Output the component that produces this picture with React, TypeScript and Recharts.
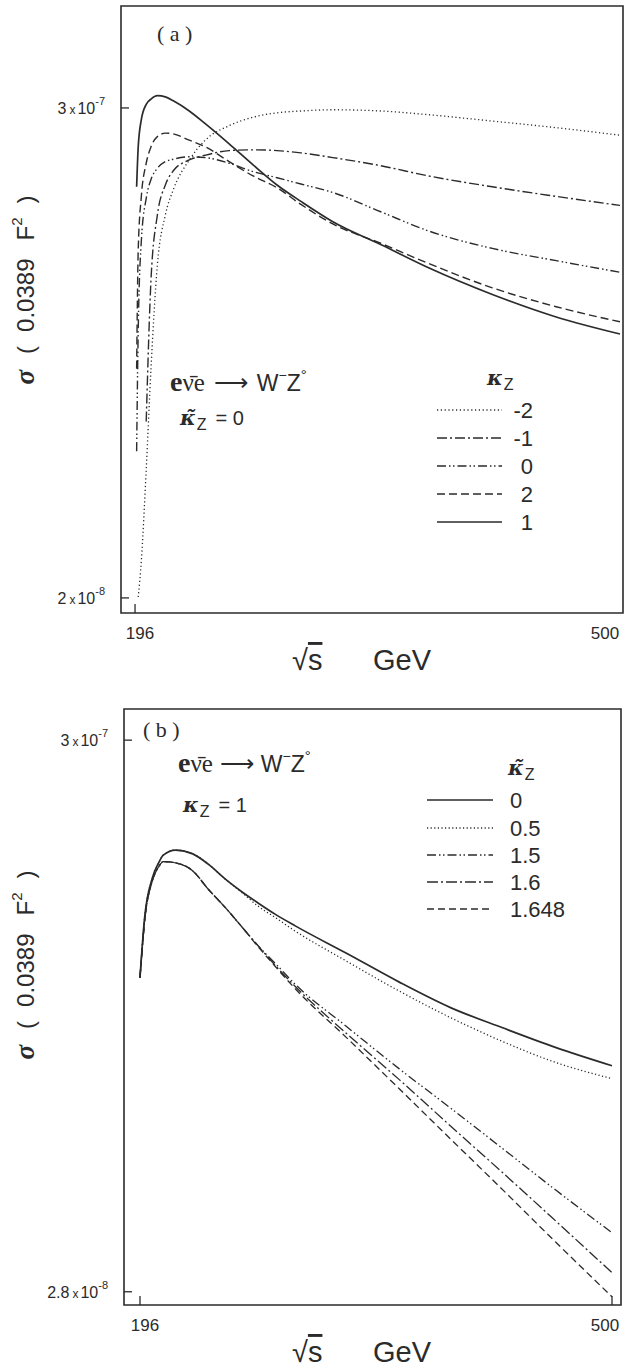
import React from "react";
import { LineChart, Line, XAxis, YAxis, ReferenceArea } from "recharts";

// ---- panel (a): kappa_Z scan at kappa~_Z = 0 ----
const energyA = [197, 198, 200, 203, 206, 210, 215, 220, 230, 240, 255, 270, 285, 300, 320, 350, 380, 420, 460, 500];
const sigmaKm2 = [null, 2.01e-8, 2.47e-8, 4.06e-8, 7.1e-8, 1.26e-7, 1.66e-7, 1.91e-7, 2.25e-7, 2.51e-7, 2.72e-7, 2.85e-7, 2.92e-7, 2.95e-7, 2.97e-7, 2.95e-7, 2.89e-7, 2.79e-7, 2.69e-7, 2.58e-7];
const sigmaKm1 = [null, null, null, 5.3e-8, 1.16e-7, 1.66e-7, 1.96e-7, 2.12e-7, 2.25e-7, 2.31e-7, 2.37e-7, 2.38e-7, 2.37e-7, 2.34e-7, 2.28e-7, 2.18e-7, 2.06e-7, 1.94e-7, 1.84e-7, 1.75e-7];
const sigmaK0 = [4.5e-8, 8.8e-8, 1.45e-7, 1.82e-7, 2.02e-7, 2.15e-7, 2.23e-7, 2.26e-7, 2.29e-7, 2.28e-7, 2.21e-7, 2.11e-7, 2.04e-7, 1.97e-7, 1.88e-7, 1.69e-7, 1.52e-7, 1.38e-7, 1.29e-7, 1.21e-7];
const sigmaK2 = [7.1e-8, 1.37e-7, 1.85e-7, 2.21e-7, 2.42e-7, 2.56e-7, 2.61e-7, 2.6e-7, 2.51e-7, 2.42e-7, 2.23e-7, 2.06e-7, 1.93e-7, 1.76e-7, 1.58e-7, 1.42e-7, 1.27e-7, 1.11e-7, 1.0e-7, 9.2e-8];
const sigmaK1 = [1.94e-7, 2.42e-7, 2.82e-7, 3.06e-7, 3.15e-7, 3.21e-7, 3.19e-7, 3.12e-7, 2.95e-7, 2.75e-7, 2.46e-7, 2.19e-7, 1.96e-7, 1.79e-7, 1.6e-7, 1.41e-7, 1.24e-7, 1.07e-7, 9.45e-8, 8.6e-8];

// ---- panel (b): kappa~_Z scan at kappa_Z = 1 ----
const energyB = [196, 199, 204, 208, 211, 219, 230, 240, 251, 262, 272, 283, 296, 329, 363, 396, 430, 464, 500];
const sigmaT0 = [1.08e-7, 1.4e-7, 1.66e-7, 1.77e-7, 1.83e-7, 1.87e-7, 1.84e-7, 1.76e-7, 1.65e-7, 1.56e-7, 1.49e-7, 1.42e-7, 1.35e-7, 1.2e-7, 1.06e-7, 9.5e-8, 8.7e-8, 8.0e-8, 7.4e-8];
const sigmaT05 = [1.08e-7, 1.4e-7, 1.66e-7, 1.77e-7, 1.83e-7, 1.87e-7, 1.84e-7, 1.76e-7, 1.65e-7, 1.555e-7, 1.47e-7, 1.4e-7, 1.32e-7, 1.16e-7, 1.02e-7, 9.1e-8, 8.2e-8, 7.5e-8, 7.0e-8];
const sigmaT15 = [1.08e-7, 1.38e-7, 1.64e-7, 1.74e-7, 1.78e-7, 1.77e-7, 1.71e-7, 1.58e-7, 1.46e-7, 1.34e-7, 1.24e-7, 1.15e-7, 1.05e-7, 8.76e-8, 7.3e-8, 6.17e-8, 5.17e-8, 4.33e-8, 3.61e-8];
const sigmaT16 = [1.08e-7, 1.38e-7, 1.64e-7, 1.74e-7, 1.78e-7, 1.77e-7, 1.71e-7, 1.58e-7, 1.46e-7, 1.34e-7, 1.24e-7, 1.14e-7, 1.04e-7, 8.5e-8, 6.97e-8, 5.71e-8, 4.66e-8, 3.79e-8, 3.04e-8];
const sigmaT1648 = [1.08e-7, 1.38e-7, 1.64e-7, 1.74e-7, 1.78e-7, 1.77e-7, 1.71e-7, 1.58e-7, 1.46e-7, 1.34e-7, 1.235e-7, 1.135e-7, 1.03e-7, 8.35e-8, 6.7e-8, 5.4e-8, 4.33e-8, 3.46e-8, 2.74e-8];

const xTicks = [196, 500];
const yTicksA = [2e-8, 3e-7];
const yTicksB = [2.8e-8, 3e-7];
const yTickText: Record<string, [string, string, string]> = {
  "2e-8": ["2", "10", "-8"],
  "3e-7": ["3", "10", "-7"],
  "2.8e-8": ["2.8", "10", "-8"],
};

const INK = "#2b2b2b";
const SANS = "'Liberation Sans', Arial, sans-serif";
const SERIF = "'Liberation Serif', 'Times New Roman', serif";
const GREEK = "'DejaVu Serif', serif";

type Series = { key: string; label: string; values: (number | null)[]; dash?: string; width: number };

const seriesA: Series[] = [
  { key: "m2", label: "-2", values: sigmaKm2, dash: "1.2 2.6", width: 1.3 },
  { key: "m1", label: "-1", values: sigmaKm1, dash: "10 3 2 3", width: 1.4 },
  { key: "z0", label: "0", values: sigmaK0, dash: "9 3 1.5 2.5 1.5 3", width: 1.4 },
  { key: "p2", label: "2", values: sigmaK2, dash: "8 4", width: 1.4 },
  { key: "p1", label: "1", values: sigmaK1, width: 1.7 },
];

const seriesB: Series[] = [
  { key: "t0", label: "0", values: sigmaT0, width: 1.7 },
  { key: "t05", label: "0.5", values: sigmaT05, dash: "1.2 2.4", width: 1.3 },
  { key: "t15", label: "1.5", values: sigmaT15, dash: "9 3 1.5 2.5 1.5 3", width: 1.3 },
  { key: "t16", label: "1.6", values: sigmaT16, dash: "11 3 2 3", width: 1.3 },
  { key: "t1648", label: "1.648", values: sigmaT1648, dash: "7 4", width: 1.3 },
];

const buildRows = (energy: number[], series: Series[]) =>
  energy.map((e, i) => {
    const row: Record<string, number | null> = { e };
    series.forEach((s) => (row[s.key] = s.values[i]));
    return row;
  });

const rowsA = buildRows(energyA, seriesA);
const rowsB = buildRows(energyB, seriesB);

const YTick = (props: any) => {
  const { x, y, payload } = props;
  const t = yTickText[String(payload.value)] || [String(payload.value), "", ""];
  return (
    <g>
      <line x1={x} x2={x + 8} y1={y} y2={y} stroke={INK} strokeWidth={1.3} />
      <text x={x - 16} y={y + 6} textAnchor="end" fontFamily={SANS} fontSize={16} fill={INK}>
        {t[0]}
        <tspan fontSize={12} dx={3}>x</tspan>
        <tspan dx={2}>{t[1]}</tspan>
        <tspan fontSize={11} dy={-9}>{t[2]}</tspan>
      </text>
    </g>
  );
};

const makeXTick = (tickAt500: boolean) => (props: any) => {
  const { x, y, payload } = props;
  const is500 = payload.value === 500;
  return (
    <g>
      {(!is500 || tickAt500) && <line x1={x} x2={x} y1={y} y2={y - 9} stroke={INK} strokeWidth={1.3} />}
      <text x={is500 ? 605 : x + 5} y={y + 26} textAnchor="middle" fontFamily={SANS} fontSize={17} fill={INK}>
        {payload.value}
      </text>
    </g>
  );
};

type PanelProps = {
  rows: Record<string, number | null>[];
  series: Series[];
  top: number;
  height: number;
  margin: { top: number; right: number; left: number; bottom: number };
  yWidth: number;
  xHeight: number;
  xDomain: [number, number];
  yDomain: [number, number];
  yTicks: number[];
  tickAt500: boolean;
};

const Panel = (p: PanelProps) => (
  <div style={{ position: "absolute", left: 0, top: p.top }}>
    <LineChart width={629} height={p.height} data={p.rows} margin={p.margin}>
      <XAxis
        type="number"
        dataKey="e"
        domain={p.xDomain}
        ticks={xTicks}
        allowDataOverflow
        axisLine={false}
        tickLine={false}
        tickSize={0}
        tickMargin={0}
        height={p.xHeight}
        tick={makeXTick(p.tickAt500)}
      />
      <YAxis
        type="number"
        scale="log"
        domain={p.yDomain}
        ticks={p.yTicks}
        allowDataOverflow
        axisLine={false}
        tickLine={false}
        tickSize={0}
        tickMargin={0}
        width={p.yWidth}
        tick={<YTick />}
      />
      <ReferenceArea
        x1={p.xDomain[0]}
        x2={p.xDomain[1]}
        y1={p.yDomain[0]}
        y2={p.yDomain[1]}
        fill="none"
        stroke={INK}
        strokeWidth={1.6}
        ifOverflow="visible"
      />
      {p.series.map((s) => (
        <Line
          key={s.key}
          type="monotone"
          dataKey={s.key}
          stroke={INK}
          strokeWidth={s.width}
          strokeDasharray={s.dash}
          dot={false}
          connectNulls={false}
          isAnimationActive={false}
        />
      ))}
    </LineChart>
  </div>
);

const LegendRows = ({ series, x0, x1, labelX, anchor, ys }: { series: Series[]; x0: number; x1: number; labelX: number; anchor: "start" | "end"; ys: number[] }) => (
  <g>
    {series.map((s, i) => (
      <g key={s.key}>
        <line x1={x0} x2={x1} y1={ys[i]} y2={ys[i]} stroke={INK} strokeWidth={s.width} strokeDasharray={s.dash} />
        <text x={labelX} y={ys[i] + 8} textAnchor={anchor} fontFamily={SANS} fontSize={22} fill={INK}>
          {s.label}
        </text>
      </g>
    ))}
  </g>
);

// kappa (optionally with a combining tilde), subscript Z and an optional "= value"
const Kappa = ({ x, y, tilde, tail }: { x: number; y: number; tilde: boolean; tail?: string }) => (
  <text x={x} y={y} fontFamily={GREEK} fontStyle="italic" fontWeight="bold" fontSize={21} fill={INK}>
    {tilde ? "\u03BA\u0303" : "\u03BA"}
    <tspan fontFamily={SANS} fontStyle="normal" fontWeight="normal" fontSize={16} dx={1} dy={5}>Z</tspan>
    {tail && (
      <tspan fontFamily={SANS} fontStyle="normal" fontWeight="normal" fontSize={20} dy={-5} dx={9}>{tail}</tspan>
    )}
  </text>
);

const Reaction = ({ x, y, gap }: { x: number; y: number; gap: number }) => (
  <text x={x} y={y} fontFamily={SERIF} fontSize={25} fill={INK}>
    <tspan fontWeight="bold" fontSize={28}>e</tspan>
    <tspan>{"\u03BD\u0304"}</tspan>
    <tspan>e</tspan>
    <tspan dx={gap} fontFamily={SANS} fontSize={24}>{"\u27F6"}</tspan>
    <tspan dx={gap} fontFamily={SANS} fontSize={23}>W</tspan>
    <tspan fontFamily={SANS} fontSize={14} dy={-11}>{"\u2212"}</tspan>
    <tspan fontFamily={SANS} fontSize={23} dy={11}>Z</tspan>
    <tspan fontFamily={SANS} fontSize={15} dy={-11}>{"\u00B0"}</tspan>
  </text>
);

const YTitle = ({ cx, cy }: { cx: number; cy: number }) => (
  <text
    x={cx}
    y={cy}
    textAnchor="middle"
    transform={`rotate(-90 ${cx} ${cy})`}
    fontFamily={SANS}
    fontSize={24}
    fill={INK}
  >
    <tspan fontFamily={SERIF} fontStyle="italic" fontWeight="bold" fontSize={27}>{"\u03C3"}</tspan>
    <tspan dx={16}>(</tspan>
    <tspan dx={14}>0.0389</tspan>
    <tspan dx={18}>F</tspan>
    <tspan fontSize={15} dy={-12}>2</tspan>
    <tspan dy={12} dx={14}>)</tspan>
  </text>
);

const XTitle = ({ y }: { y: number }) => (
  <g>
    <text x={292} y={y} fontFamily={SANS} fontSize={29} fill={INK}>
      <tspan>{"\u221A"}</tspan>
      <tspan style={{ textDecoration: "overline" }}>s</tspan>
    </text>
    <text x={373} y={y} fontFamily={SANS} fontSize={29} fill={INK}>GeV</text>
  </g>
);

export default function App() {
  return (
    <div style={{ position: "absolute", left: 0, top: 0, width: 629, height: 1369, background: "#fff" }}>
      <Panel
        rows={rowsA}
        series={seriesA}
        top={0}
        height={690}
        margin={{ top: 6, right: 6, left: 0, bottom: 0 }}
        yWidth={121}
        xHeight={77}
        xDomain={[187.2, 501.9]}
        yDomain={[1.84e-8, 5.27e-7]}
        yTicks={yTicksA}
        tickAt500={false}
      />
      <Panel
        rows={rowsB}
        series={seriesB}
        top={690}
        height={679}
        margin={{ top: 19, right: 8, left: 0, bottom: 0 }}
        yWidth={124}
        xHeight={64}
        xDomain={[185.7, 505.8]}
        yDomain={[2.645e-8, 3.43e-7]}
        yTicks={yTicksB}
        tickAt500={true}
      />
      <svg width={629} height={1369} style={{ position: "absolute", left: 0, top: 0, pointerEvents: "none" }}>
        {/* panel (a) annotations */}
        <text x={157} y={41} fontFamily={SERIF} fontSize={22} fill={INK}>( a )</text>
        <Reaction x={170} y={391} gap={9} />
        <Kappa x={180} y={425} tilde tail="= 0" />
        <Kappa x={487} y={385} tilde={false} />
        <LegendRows series={seriesA} x0={437} x1={502} labelX={533} anchor="end" ys={[410, 438, 466, 494, 522]} />
        <YTitle cx={34} cy={290} />
        <XTitle y={670} />

        {/* panel (b) annotations */}
        <text x={143} y={737} fontFamily={SERIF} fontSize={22} fill={INK}>( b )</text>
        <Reaction x={178} y={772} gap={7} />
        <Kappa x={183} y={812} tilde={false} tail="= 1" />
        <Kappa x={508} y={775} tilde />
        <LegendRows series={seriesB} x0={427} x1={493} labelX={510} anchor="start" ys={[800, 828, 855, 882, 909]} />
        <YTitle cx={34} cy={965} />
        <XTitle y={1362} />
      </svg>
    </div>
  );
}
